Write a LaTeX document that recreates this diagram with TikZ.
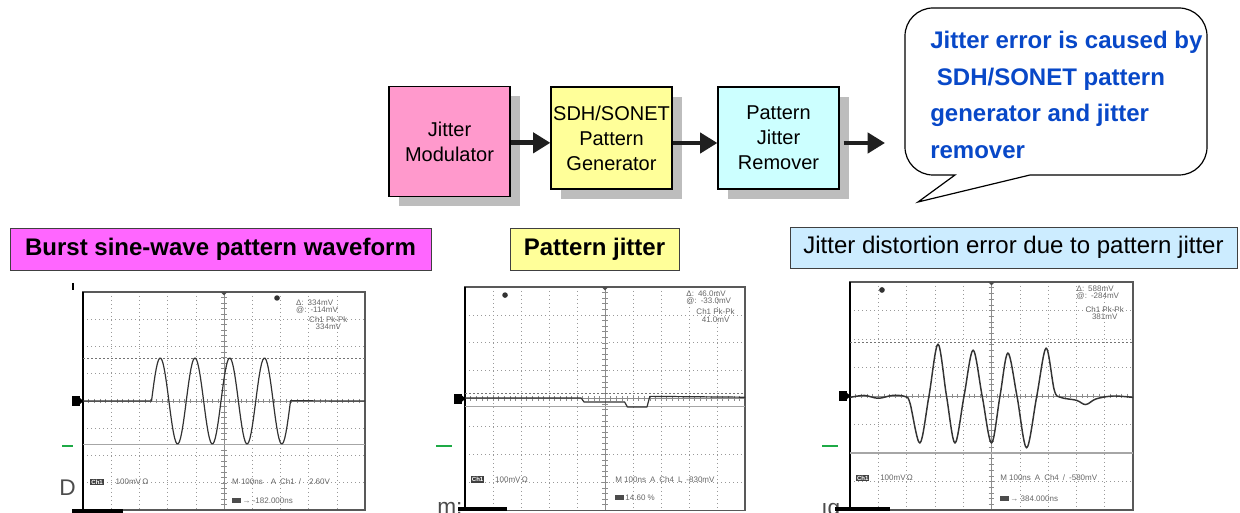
\documentclass[tikz,border=0pt]{standalone}
\usepackage{fontspec}
\setmainfont{Liberation Sans}
\usetikzlibrary{arrows.meta,shadows}

\definecolor{modpink}{RGB}{255,153,204}
\definecolor{genyellow}{RGB}{255,255,153}
\definecolor{remcyan}{RGB}{204,255,255}
\definecolor{burstpink}{RGB}{255,102,255}
\definecolor{distblue}{RGB}{204,236,255}
\definecolor{noteblue}{RGB}{8,72,200}
\definecolor{markgreen}{RGB}{30,170,70}

\tikzset{
  block/.style={draw=black, line width=0.9pt, align=center, inner sep=1pt,
    font=\fontsize{15}{18.75}\selectfont, minimum width=90.75pt,
    drop shadow={shadow xshift=7.5pt, shadow yshift=-7.5pt, fill=black!26, opacity=1}},
  caption/.style={draw=black!75, line width=0.6pt, minimum height=31.5pt, inner sep=0pt,
    font=\fontsize{18}{21}\selectfont},
  notetext/.style={inner sep=0pt, align=left, text=noteblue,
    font=\fontsize{18}{27.4}\selectfont\bfseries},
  flow/.style={-{Triangle[length=13pt,width=15pt]}, line width=3.6pt, black!88},
  dotline/.style={black!40, line width=0.45pt, dash pattern=on 0.5pt off 2.5pt},
  cursor/.style={black!55, line width=0.5pt, dash pattern=on 1.5pt off 1.5pt},
  level/.style={black!35, line width=0.9pt},
  trace/.style={black!80, line width=0.9pt, line join=round},
  readout/.style={inner sep=0pt, text=black!60, font=\fontsize{6}{5.5}\selectfont},
  chbox/.style={fill=black!75, text=white, inner sep=0.8pt, font=\fontsize{4.5}{4.5}\selectfont\bfseries},
  stray/.style={inner sep=0pt, text=black!70, font=\fontsize{17}{20}\selectfont},
}

\begin{document}
\begin{tikzpicture}[x=0.75pt, y=-0.75pt]
  \useasboundingbox (0,0) rectangle (1240,513);

  % test chain
  \node[block, fill=modpink, minimum height=82.5pt] (mod) at (449.5,141.5) {Jitter\\Modulator};
  \node[block, fill=genyellow, minimum height=76.5pt] (gen) at (611.5,138) {SDH/SONET\\Pattern\\Generator};
  \node[block, fill=remcyan, minimum height=76.5pt] (rem) at (778.5,138) {Pattern\\Jitter\\Remover};
  \coordinate (out) at (885,143);

  \draw[flow] ([yshift=-1pt]mod.east) -- ([yshift=-1pt]mod.east -| gen.west);
  \draw[flow] ([yshift=-3.75pt]gen.east) -- ([yshift=-3.75pt]gen.east -| rem.west);
  \draw[flow] ([xshift=3pt,yshift=-3.75pt]rem.east) -- ([yshift=-3.75pt]rem.east -| out);

  % speech bubble
  \draw[line width=0.9pt, fill=white] (918,202) -- (955,175) -- (935,175) [rounded corners=21pt]
    -- (905,175) -- (905,8) -- (1207,8) -- (1207,175) -- (1060,175) [sharp corners] -- (1030,175) -- cycle;
  \node[notetext, anchor=north west] (note) at (930,31)
    {Jitter error is caused by\\\hspace*{5pt}SDH/SONET pattern\\generator and jitter\\remover};

  % captions
  \node[caption, fill=burstpink, minimum width=315.75pt] (burst) at (220.5,249) {\bfseries Burst sine-wave pattern waveform};
  \node[caption, fill=genyellow, minimum width=126.75pt] (pjit) at (594.5,249) {\bfseries Pattern jitter};
  \node[caption, fill=distblue, minimum width=335.25pt, minimum height=30.75pt] (dist) at (1013.5,247.5) {Jitter distortion error due to pattern jitter};

  % scope screens
  \foreach \sx/\sy/\ux/\uy in {83/292/21.15pt/-20.44pt, 465/287/21pt/-20.925pt, 850/282/21.225pt/-21.375pt}{
    \begin{scope}[shift={(\sx,\sy)}, x=\ux, y=\uy]
      \foreach \i in {1,...,9} \draw[dotline] (\i,0) -- (\i,8);
      \foreach \j in {1,...,7} \draw[dotline] (0,\j) -- (10,\j);
      \draw[black!45, line width=0.4pt] (5,0) -- (5,8) (0,4) -- (10,4);
      \foreach \t in {0.2,0.4,...,9.9} \draw[black!45, line width=0.4pt] (\t,3.92) -- (\t,4.08);
      \foreach \t in {0.2,0.4,...,7.9} \draw[black!45, line width=0.4pt] (4.9,\t) -- (5.1,\t);
      \draw[black!65, line width=0.8pt] (0,0) rectangle (10,8);
      \draw[black, line width=1.4pt] (0,0) -- (0,8);
      \fill (-0.38,3.82) rectangle (-0.12,4.18);
      \fill (-0.12,3.88) -- (0.02,4) -- (-0.12,4.12) -- cycle;
      \fill[black!70] (4.88,0) -- (5.12,0) -- (5,0.12) -- cycle;
    \end{scope}
  }

  % burst sine-wave
  \begin{scope}[shift={(83,292)}, x=21.15pt, y=-20.44pt]
    \draw[cursor] (0,2.42) -- (10,2.42);
    \draw[level] (0,5.61) -- (10,5.61);
    \draw[trace] (0,4) -- (2.43,4) -- plot[domain=2.43:7.36, samples=121] (\x,{4-1.58*sin(292.2*(\x-2.43))}) -- (10,4);
    \fill[black!80] (6.88,0.22) circle (0.1);
    \node[readout, align=left, anchor=north west] (ma) at (7.55,0.28) {Δ:\enspace 334mV\\@:\enspace -114mV};
    \node[readout, align=center, anchor=north] (mb) at (8.7,0.9) {Ch1 Pk-Pk\\334mV};
    \node[chbox] (ca) at (0.5,6.97) {Ch1};
    \node[readout, anchor=west] (va) at (1.15,6.97) {100mV\,Ω};
    \node[readout, anchor=west] (ta) at (5.28,6.97) {M 100ns\quad A\enspace Ch1\enspace /\quad 2.60V};
    \fill[black!70] (5.28,7.55) rectangle (5.6,7.75);
    \node[readout, anchor=west] (pa) at (5.65,7.65) {→ -182.000ns};
  \end{scope}

  % pattern jitter
  \begin{scope}[shift={(465,287)}, x=21pt, y=-20.925pt]
    \draw[cursor] (0,3.8) -- (10,3.8);
    \draw[level] (0,4.27) -- (10,4.27);
    \draw[trace] (0,3.98) -- (4.15,3.98) -- (4.25,4.12) -- (5.7,4.12) -- (5.8,4.3) -- (6.5,4.3) -- (6.6,3.92) -- (10,3.95);
    \fill[black!80] (1.43,0.29) circle (0.1);
    \node[readout, align=left, anchor=north west] (mc) at (7.9,0.12) {Δ:\enspace 46.0mV\\@:\enspace -33.0mV};
    \node[readout, align=center, anchor=north] (md) at (8.95,0.78) {Ch1 Pk-Pk\\41.0mV};
    \node[chbox] (cb) at (0.45,6.9) {Ch1};
    \node[readout, anchor=west] (vb) at (1.07,6.9) {100mV\,Ω};
    \node[readout, anchor=west] (tb) at (5.36,6.9) {M 100ns\enspace A\enspace Ch4\enspace L\enspace -830mV};
    \fill[black!70] (5.36,7.45) rectangle (5.68,7.65);
    \node[readout, anchor=west] (pb) at (5.72,7.55) {14.60 \%};
  \end{scope}

  % distorted burst
  \begin{scope}[shift={(850,282)}, x=21.225pt, y=-21.375pt]
    \draw[cursor] (0,2.1) -- (10,2.1);
    \draw[level] (0,6.0) -- (10,6.0);
    \draw[trace, line width=1.1pt] plot[smooth, tension=0.55] coordinates {(0,4.05) (0.5,3.98) (1,4.08) (1.5,3.98) (1.95,4.02) (2.12,4.25)
      (2.47,5.65) (2.79,4) (3.11,2.18) (3.41,4) (3.71,5.65) (4.03,4) (4.35,2.39) (4.67,4)
      (5.0,5.65) (5.3,4) (5.58,2.49) (5.9,4) (6.24,5.82) (6.6,4) (6.93,2.32) (7.22,3.8)
      (7.45,4.05) (8.0,4.15) (8.33,4.3) (8.7,4.1) (9.3,4.0) (10,4.05)};
    \fill[black!80] (1.13,0.28) circle (0.1);
    \node[readout, align=left, anchor=north west] (me) at (8.0,0.12) {Δ:\enspace 588mV\\@:\enspace -284mV};
    \node[readout, align=center, anchor=north] (mf) at (9.0,0.85) {Ch1 Pk-Pk\\381mV};
    \node[chbox] (cc) at (0.45,6.88) {Ch1};
    \node[readout, anchor=west] (vc) at (1.06,6.88) {100mV\,Ω};
    \node[readout, anchor=west] (tc) at (5.3,6.88) {M 100ns\enspace A\enspace Ch4\enspace /\enspace -580mV};
    \fill[black!70] (5.3,7.5) rectangle (5.62,7.7);
    \node[readout, anchor=west] (pc) at (5.66,7.6) {→ 384.000ns};
  \end{scope}

  % slide leftovers
  \draw[black, line width=0.8pt] (73,283) -- (73,290);
  \draw[markgreen, line width=2.2pt] (62,446) -- (73,446) (436,446) -- (452,446) (822,446) -- (838,446);
  \node[stray, anchor=base west] (sd) at (59,495) {D};
  \node[stray, anchor=base west] (sm) at (437,514) {m:};
  \node[stray, anchor=base west] (sg) at (821,516) {ıg};
  \draw[black, line width=2.4pt] (72,511) -- (123,511) (458,509) -- (507,509) (835,509) -- (890,509);
\end{tikzpicture}
\end{document}
